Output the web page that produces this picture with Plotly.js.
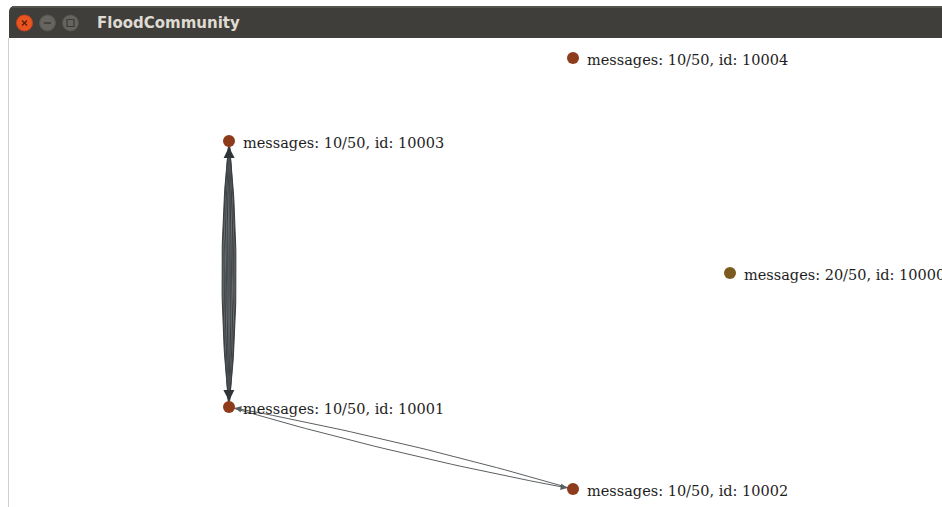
<!DOCTYPE html>
<html>
<head>
<meta charset="utf-8">
<script src="https://cdn.plot.ly/plotly-3.0.1.min.js"></script>
<style>
html,body{margin:0;padding:0;background:#ffffff;overflow:hidden;}
#chart{width:942px;height:507px;}
</style>
</head>
<body>
<div id="chart"></div>
<script>
// ---- data ----
const windowTitle = 'FloodCommunity';
const nodeIds = ['10000', '10001', '10002', '10003', '10004'];
const nodeX = [730, 229, 573, 229, 573];
const nodeY = [273, 407, 489, 141, 58];
const nodeMessages = [20, 10, 10, 10, 10];
const nodeCapacity = [50, 50, 50, 50, 50];
const edgeFrom = ['10001', '10003', '10001', '10002'];
const edgeTo   = ['10003', '10001', '10002', '10001'];
const edgeCount = [10, 10, 1, 1];

// ---- styles ----
const nodeColorFull = '#7b5a1f';
const nodeColorNormal = '#8e3b1b';
const labelFont = {family: 'DejaVu Serif', size: 14.5, color: '#1e1e1e'};

const idx = id => nodeIds.indexOf(id);
const traces = [];
const annotations = [];

function bezier(p0, c, p1, t) {
  const u = 1 - t;
  return [u*u*p0[0] + 2*u*t*c[0] + t*t*p1[0], u*u*p0[1] + 2*u*t*c[1] + t*t*p1[1]];
}

for (let e = 0; e < edgeFrom.length; e++) {
  const a = idx(edgeFrom[e]), b = idx(edgeTo[e]);
  const p0 = [nodeX[a], nodeY[a]], p1 = [nodeX[b], nodeY[b]];
  const dx = p1[0] - p0[0], dy = p1[1] - p0[1];
  const len = Math.hypot(dx, dy);
  const nx = -dy / len, ny = dx / len;
  const n = edgeCount[e];
  const heavy = n > 1;
  for (let k = 0; k < n; k++) {
    const bend = heavy ? 1 + 13 * (k / Math.max(1, n - 1)) : 9;
    const c = [(p0[0] + p1[0]) / 2 + nx * bend, (p0[1] + p1[1]) / 2 + ny * bend];
    const xs = [], ys = [];
    for (let i = 0; i <= 40; i++) {
      const q = bezier(p0, c, p1, i / 40);
      xs.push(q[0]); ys.push(q[1]);
    }
    traces.push({
      type: 'scatter', mode: 'lines', x: xs, y: ys, hoverinfo: 'skip', showlegend: false,
      line: {color: heavy ? (k % 3 === 1 ? '#6a6f72' : '#3b4043') : '#5a5f62', width: heavy ? 1.1 : 1}
    });
    if (k === 0) {
      const tail = bezier(p0, c, p1, heavy ? 0.93 : 0.96);
      annotations.push({
        x: p1[0], y: p1[1], ax: tail[0], ay: tail[1], xref: 'x', yref: 'y', axref: 'x', ayref: 'y',
        text: '', showarrow: true, arrowhead: 2, arrowsize: heavy ? 1 : 1.3, arrowwidth: heavy ? 2.2 : 1,
        arrowcolor: heavy ? '#2f3437' : '#5a5f62', standoff: 6
      });
    }
  }
}

const labels = nodeIds.map((id, i) => 'messages: ' + nodeMessages[i] + '/' + nodeCapacity[i] + ', id: ' + id);
traces.push({
  type: 'scatter', mode: 'markers', x: nodeX, y: nodeY, text: labels,
  hoverinfo: 'text', showlegend: false, cliponaxis: false,
  marker: {size: 12, color: nodeMessages.map((m, i) => m > 10 ? nodeColorFull : nodeColorNormal), line: {width: 0}}
});
nodeIds.forEach((id, i) => {
  annotations.push({
    x: nodeX[i], y: nodeY[i], xref: 'x', yref: 'y', xanchor: 'left', yanchor: 'middle',
    xshift: 12, yshift: -2, showarrow: false, text: labels[i], font: labelFont
  });
});

// ---- window chrome (decoration) ----
const shapes = [
  {type: 'path', xref: 'x', yref: 'y', path: 'M 9 38 L 9 12 Q 9 6 15 6 L 942 6 L 942 38 Z',
   fillcolor: '#3f3e3a', line: {width: 0}, layer: 'above'},
  {type: 'rect', xref: 'x', yref: 'y', x0: 12, x1: 942, y0: 6, y1: 8, fillcolor: '#55534e', line: {width: 0}, layer: 'above'},
  {type: 'line', xref: 'x', yref: 'y', x0: 8.5, x1: 8.5, y0: 38, y1: 507, line: {color: '#cfcfcf', width: 1}},
  {type: 'circle', xref: 'x', yref: 'y', x0: 16.5, x1: 32.5, y0: 15, y1: 31, fillcolor: '#e95420', line: {color: '#c7431a', width: 1}, layer: 'above'},
  {type: 'circle', xref: 'x', yref: 'y', x0: 39.5, x1: 55.5, y0: 15, y1: 31, fillcolor: '#66645f', line: {color: '#55534f', width: 1}, layer: 'above'},
  {type: 'circle', xref: 'x', yref: 'y', x0: 62.5, x1: 78.5, y0: 15, y1: 31, fillcolor: '#66645f', line: {color: '#55534f', width: 1}, layer: 'above'},
  {type: 'line', xref: 'x', yref: 'y', x0: 44, x1: 51, y0: 23, y1: 23, line: {color: '#3b3a36', width: 1.5}, layer: 'above'},
  {type: 'rect', xref: 'x', yref: 'y', x0: 67, x1: 74, y0: 19.5, y1: 26.5, line: {color: '#3b3a36', width: 1.2}, layer: 'above'},
  {type: 'line', xref: 'x', yref: 'y', x0: 22, x1: 27, y0: 20.5, y1: 25.5, line: {color: '#5a1e08', width: 1.3}, layer: 'above'},
  {type: 'line', xref: 'x', yref: 'y', x0: 27, x1: 22, y0: 20.5, y1: 25.5, line: {color: '#5a1e08', width: 1.3}, layer: 'above'}
];
annotations.push({
  x: 95, y: 22.5, xref: 'x', yref: 'y', xanchor: 'left', yanchor: 'middle', showarrow: false,
  text: windowTitle, font: {family: 'DejaVu Sans', size: 15, color: '#dfdbd2', weight: 'bold'}
});

const layout = {
  width: 942, height: 507, margin: {l: 0, r: 0, t: 0, b: 0},
  paper_bgcolor: '#ffffff', plot_bgcolor: '#ffffff',
  xaxis: {range: [0, 942], visible: false, fixedrange: true},
  yaxis: {range: [507, 0], visible: false, fixedrange: true},
  shapes: shapes, annotations: annotations, showlegend: false
};

Plotly.newPlot('chart', traces, layout, {displayModeBar: false, staticPlot: true});
</script>
</body>
</html>
